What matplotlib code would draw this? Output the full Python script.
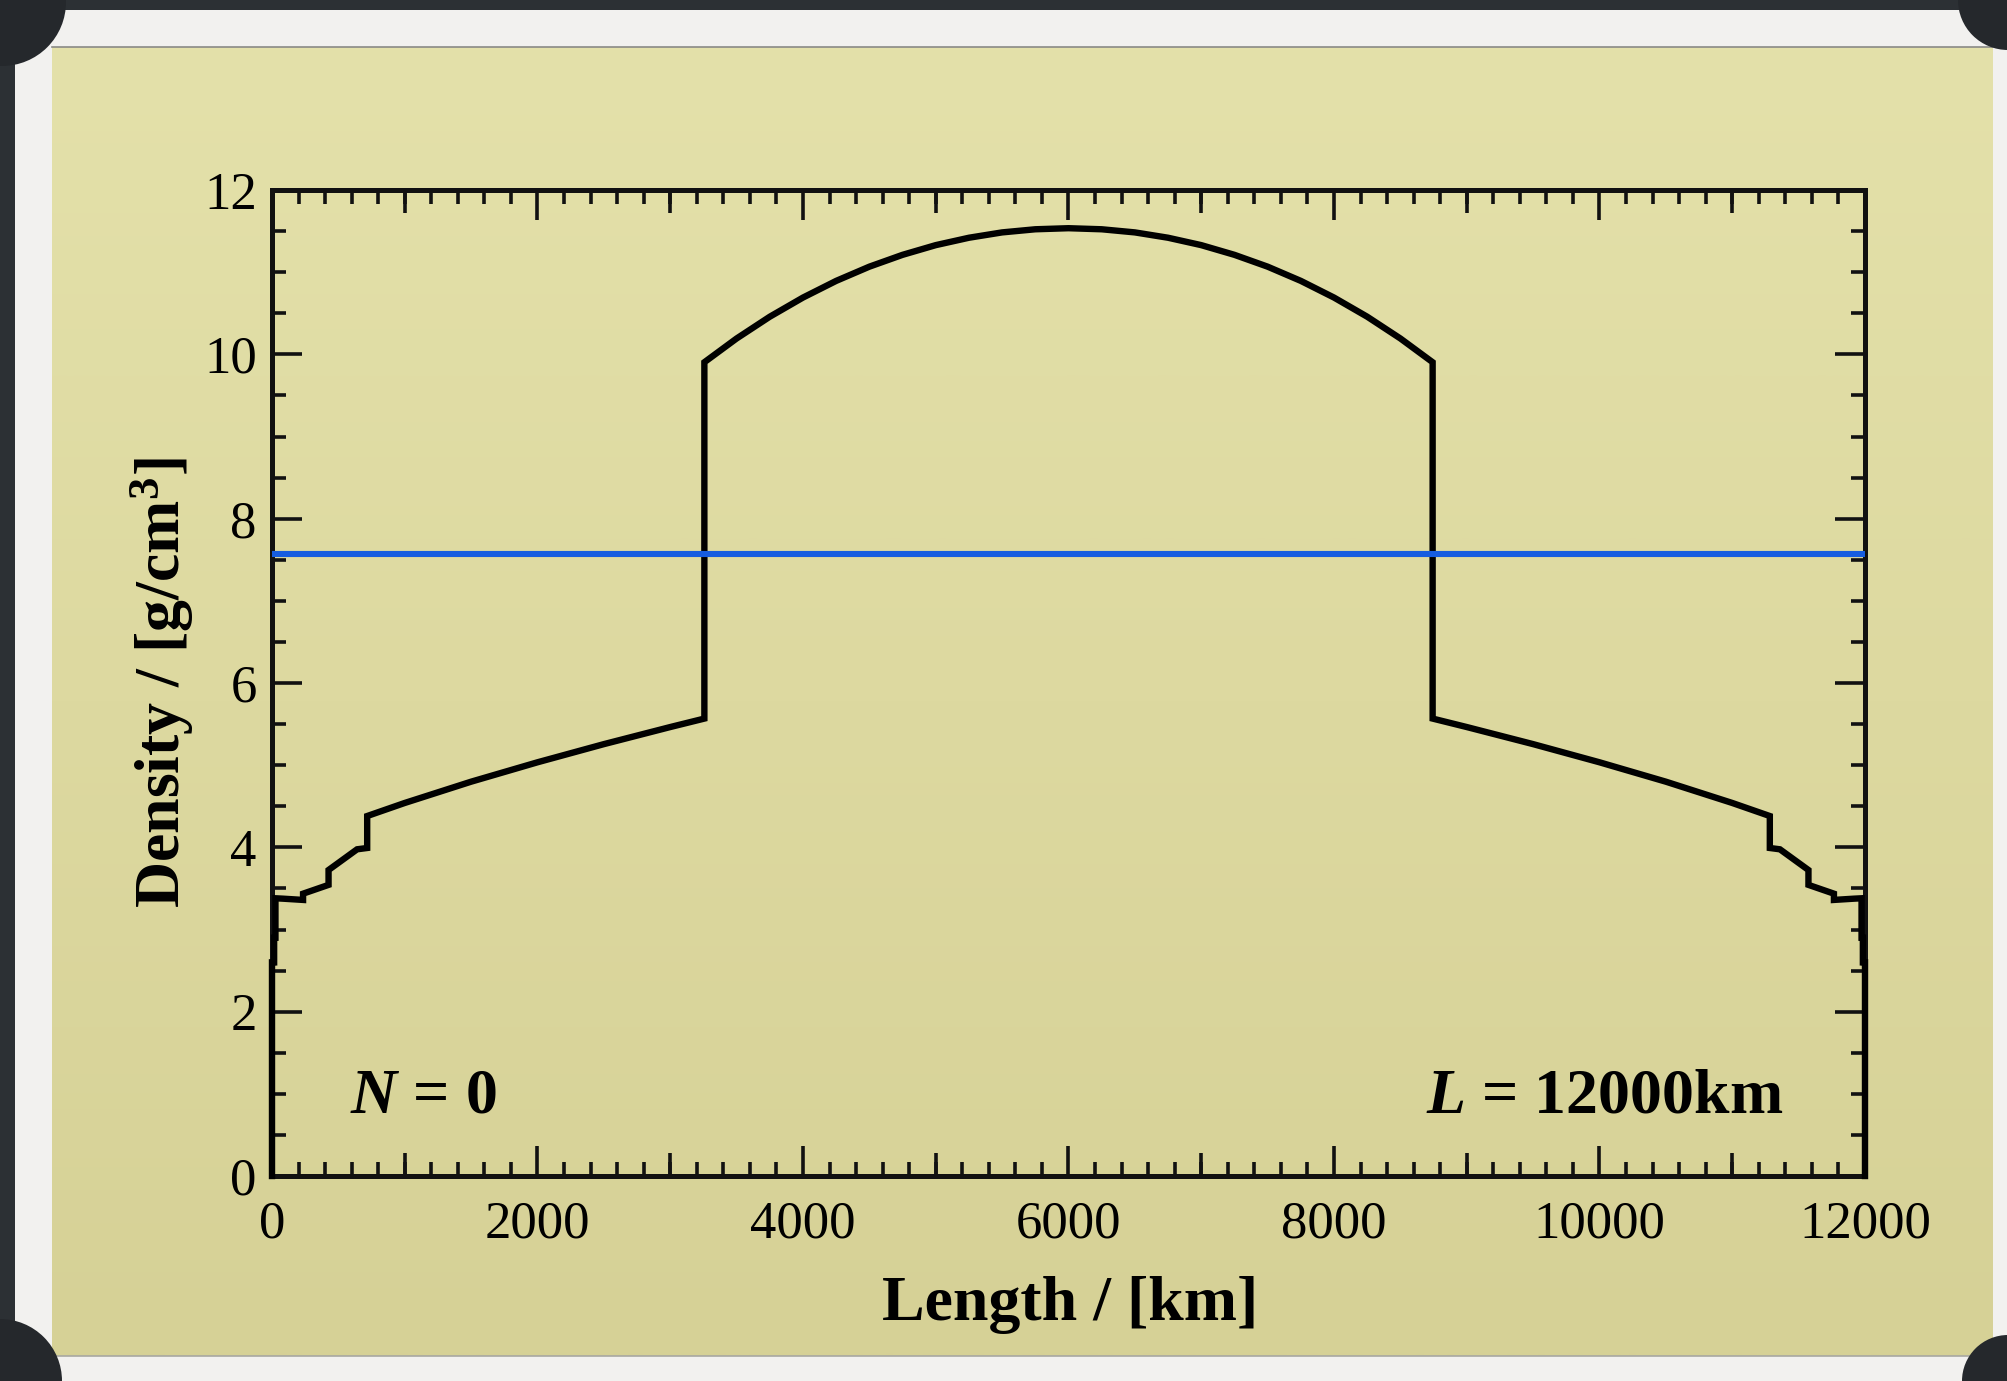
import numpy as np
import matplotlib
matplotlib.use("Agg")
import matplotlib.pyplot as plt
from matplotlib.ticker import MultipleLocator, FixedLocator, NullFormatter
from matplotlib.patches import Rectangle, Circle

# ---------------- data ----------------
length_km = [0, 0, 16, 16, 26, 26, 85, 234, 234, 426, 426, 641, 717, 717,
             1000, 1500, 2000, 2500, 3000, 3257, 3257, 3500, 3750, 4000, 4250,
             4500, 4750, 5000, 5250, 5500, 5750, 6000, 6250, 6500, 6750, 7000,
             7250, 7500, 7750, 8000, 8250, 8500, 8743, 8743, 9000, 9500, 10000,
             10500, 11000, 11283, 11283, 11359, 11574, 11574, 11766, 11766,
             11915, 11974, 11974, 11984, 11984, 12000, 12000]
density = [0.0, 2.60, 2.60, 2.90, 2.90, 3.38, 3.375, 3.36, 3.436, 3.543, 3.724,
           3.976, 3.992, 4.381, 4.540, 4.799, 5.035, 5.256, 5.464, 5.567, 9.904,
           10.193, 10.458, 10.691, 10.894, 11.067, 11.211, 11.329, 11.419, 11.484,
           11.522, 11.535, 11.522, 11.484, 11.419, 11.329, 11.211, 11.067, 10.894,
           10.691, 10.458, 10.193, 9.904, 5.567, 5.464, 5.256, 5.035, 4.799, 4.540,
           4.381, 3.992, 3.976, 3.724, 3.543, 3.436, 3.36, 3.375, 3.38, 2.90, 2.90,
           2.60, 2.60, 0.0]
mean_density = 7.57
x_ticks = [0, 2000, 4000, 6000, 8000, 10000, 12000]
y_ticks = [0, 2, 4, 6, 8, 10, 12]
label_n = r"$N$ = 0"
label_l = r"$L$ = 12000km"

# ---------------- styling ----------------
plt.rcParams['font.family'] = ['Liberation Serif', 'DejaVu Serif']
plt.rcParams['mathtext.fontset'] = 'custom'
plt.rcParams['mathtext.it'] = 'Liberation Serif:italic:bold'
plt.rcParams['mathtext.rm'] = 'Liberation Serif:bold'
plt.rcParams['mathtext.bf'] = 'Liberation Serif:bold'

W, H = 2008, 1381
fig = plt.figure(figsize=(W / 100, H / 100), dpi=100, facecolor='#2c3034')

# background decoration axes in pixel coordinates
bg = fig.add_axes([0, 0, 1, 1])
bg.axis('off')
bg.add_patch(Rectangle((15, 10), W - 15, H - 10, facecolor='#f2f1ef', edgecolor='none', zorder=1))
grad = np.linspace(0, 1, 256).reshape(-1, 1)
top_c = np.array([228, 225, 170]) / 255
bot_c = np.array([214, 209, 150]) / 255
img = top_c[None, None, :] * (1 - grad[:, :, None]) + bot_c[None, None, :] * grad[:, :, None]
bg.imshow(img, extent=[52, 1993, 1356, 47], aspect='auto', interpolation='bilinear', zorder=2)
bg.plot([52, 1993], [47, 47], color='#8a8a86', lw=1.2, zorder=3)
bg.plot([52, 1993], [1356, 1356], color='#a8a8a2', lw=1.2, zorder=3)
for (cx, cy, r) in [(2, 2, 64), (2008, 0, 50), (0, 1381, 62), (2008, 1381, 46)]:
    bg.add_patch(Circle((cx, cy), r, facecolor='#25282c', edgecolor='none', zorder=4))
bg.set_xlim(0, W)
bg.set_ylim(H, 0)

# main axes
left, right_, top, bottom = 272, 1865, 190, 1176
rect = [left / W, 1 - bottom / H, (right_ - left) / W, (bottom - top) / H]
ax = fig.add_axes(rect, facecolor='none')

ax.plot(length_km, density, color='black', lw=4.6, solid_joinstyle='miter',
        zorder=3, clip_on=False)
ax.axhline(mean_density, color='#165de0', lw=4.4, zorder=4)

ax.set_xlim(0, 12000)
ax.set_ylim(0, 12)
ax.set_xticks(x_ticks)
ax.set_yticks(y_ticks)
ax.xaxis.set_minor_locator(MultipleLocator(200))
ax.yaxis.set_minor_locator(MultipleLocator(0.5))
ax.tick_params(which='both', direction='in', top=True, right=True, width=2.6, color='#111111')
ax.tick_params(which='major', length=21.6)
ax.tick_params(which='minor', length=10.3)
ax.tick_params(axis='x', which='major', labelsize=38, pad=17.5)
ax.tick_params(axis='y', which='major', labelsize=38, pad=11)
for s in ax.spines.values():
    s.set_linewidth(3.6)
    s.set_color('#111111')

# intermediate x ticks at odd thousands
ax2 = fig.add_axes(rect, facecolor='none', frameon=False)
ax2.set_xlim(0, 12000)
ax2.set_ylim(0, 12)
ax2.xaxis.set_major_locator(FixedLocator([1000, 3000, 5000, 7000, 9000, 11000]))
ax2.xaxis.set_major_formatter(NullFormatter())
ax2.set_yticks([])
ax2.tick_params(axis='x', direction='in', top=True, bottom=True, length=16.5, width=2.6,
                color='#111111', labelbottom=False, labeltop=False)

ax.set_xlabel("Length / [km]", fontsize=46, fontweight='bold')
ax.xaxis.set_label_coords(0.501, -0.101)
ax.set_ylabel(r"Density / [g/cm$^3$]", fontsize=46, fontweight='bold')
ax.yaxis.set_label_coords(-0.048, 0.5)

ax.text(0.049, 0.064, label_n, transform=ax.transAxes, fontsize=46, fontweight='bold',
        ha='left', va='baseline')
ax.text(0.9485, 0.064, label_l, transform=ax.transAxes, fontsize=46, fontweight='bold',
        ha='right', va='baseline')

fig.savefig('out.png', dpi=100, facecolor=fig.get_facecolor())
